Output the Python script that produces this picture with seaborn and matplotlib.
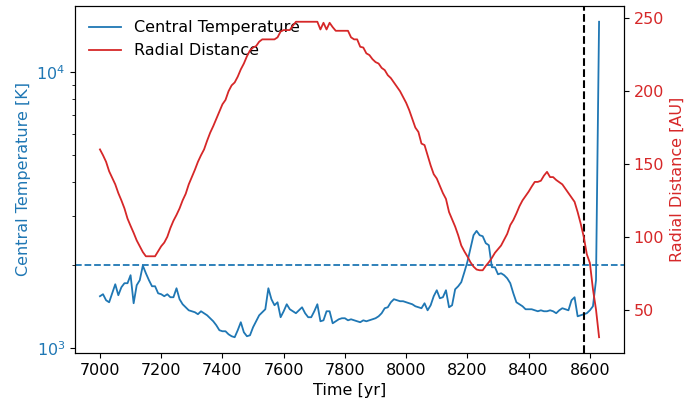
import numpy as np
import matplotlib
matplotlib.use("Agg")
import matplotlib.pyplot as plt
import seaborn as sns

# time axis, one sample every 10 yr
time_yr = np.arange(7000, 8640, 10)

central_temp_K = [
    1541, 1567, 1490, 1465, 1579, 1703, 1554, 1661, 1718, 1718,
    1837, 1453, 1689, 1762, 1990, 1867, 1762, 1675, 1675, 1579,
    1567, 1541, 1567, 1528, 1528, 1647, 1503, 1441, 1405, 1370,
    1359, 1348, 1326, 1359, 1337, 1314, 1282, 1250, 1209, 1160,
    1150, 1150, 1121, 1103, 1094, 1160, 1240, 1140, 1103, 1112,
    1189, 1250, 1314, 1348, 1382, 1647, 1503, 1429, 1465, 1293,
    1359, 1441, 1382, 1359, 1337, 1370, 1405, 1337, 1293, 1293,
    1359, 1441, 1250, 1260, 1359, 1359, 1229, 1250, 1271, 1282,
    1282, 1260, 1271, 1260, 1250, 1240, 1260, 1250, 1260, 1271,
    1282, 1303, 1337, 1394, 1405, 1465, 1503, 1490, 1478, 1478,
    1465, 1453, 1441, 1417, 1405, 1394, 1453, 1370, 1429, 1541,
    1620, 1515, 1528, 1620, 1405, 1429, 1633, 1675, 1733, 1883,
    2055, 2300, 2566, 2660, 2566, 2544, 2400, 2360, 1963, 1963,
    1851, 1867, 1837, 1790, 1718, 1579, 1465, 1441, 1417, 1382,
    1382, 1382, 1370, 1359, 1370, 1359, 1359, 1370, 1359, 1337,
    1370, 1394, 1382, 1370, 1490, 1528, 1303, 1314, 1326, 1337,
    1370, 1417, 1762, 15270,
]

radial_dist_AU = [
    160, 156, 151.5, 145, 140.5, 136, 130, 125, 119.5, 112.5,
    107.5, 102.7, 97.5, 93.5, 89.5, 86.6, 86.6, 86.6, 86.6, 90,
    93.5, 96, 100, 106, 111, 115, 119.5, 125, 129.5, 136,
    141, 146, 151.5, 156, 160, 166, 171.5, 176, 181, 186,
    191, 194, 200, 204, 206, 210, 215, 219, 224, 228,
    230, 231, 234, 235.6, 235.6, 235.6, 235.6, 235.6, 237, 241,
    242, 242, 242, 245, 247.7, 247.7, 247.7, 247.7, 247.7, 247.7,
    247.7, 247.7, 242.4, 247, 242.4, 247, 244, 241.5, 241.5, 241.5,
    241.5, 241.5, 237, 235.6, 235.6, 230.5, 230, 226, 224.8, 222,
    220, 219, 216, 214.5, 211, 209, 206, 203, 200, 196,
    192, 187, 181, 175, 172, 164, 163, 156, 149, 143,
    140, 135, 130, 126, 117, 112, 107, 101, 94, 90,
    86.5, 82.5, 79.5, 77.5, 77, 77, 80, 82.5, 85.5, 89,
    91.5, 94, 98, 102, 108, 111.5, 116, 121, 125, 128,
    131, 134.5, 137.7, 137.7, 138.5, 142, 144.6, 141, 141, 139,
    137.5, 136, 133, 130, 127, 124, 117, 109, 100, 88,
    82, 64, 50, 31,
]

temp_threshold_K = 2000
event_time_yr = 8580

fs = 11.5
fig = plt.figure(figsize=(6.97, 3.99), dpi=100)
ax = fig.add_axes([0.1076, 0.1153, 0.7877, 0.8697])
ax2 = ax.twinx()

sns.lineplot(x=time_yr, y=central_temp_K, ax=ax, color="tab:blue",
             label="Central Temperature", linewidth=1.3)
sns.lineplot(x=time_yr, y=radial_dist_AU, ax=ax2, color="tab:red",
             label="Radial Distance", linewidth=1.3)

ax.set_yscale("log")
ax.axhline(temp_threshold_K, color="tab:blue", linestyle="--", linewidth=1.3)
ax.axvline(event_time_yr, color="black", linestyle="--", linewidth=1.5)

ax.set_xlabel("Time [yr]", fontsize=fs)
ax.set_ylabel("Central Temperature [K]", color="tab:blue", fontsize=fs)
ax2.set_ylabel("Radial Distance [AU]", color="tab:red", fontsize=fs)
ax.tick_params(axis="y", labelcolor="tab:blue", labelsize=fs)
ax.tick_params(axis="x", labelsize=fs)
ax2.tick_params(axis="y", labelcolor="tab:red", labelsize=fs)
ax2.set_yticks([50, 100, 150, 200, 250])

h1, l1 = ax.get_legend_handles_labels()
h2, l2 = ax2.get_legend_handles_labels()
if ax2.get_legend() is not None:
    ax2.get_legend().remove()
ax.legend(h1 + h2, l1 + l2, loc="upper left", frameon=False, fontsize=fs)

fig.savefig("out.png", dpi=100)
